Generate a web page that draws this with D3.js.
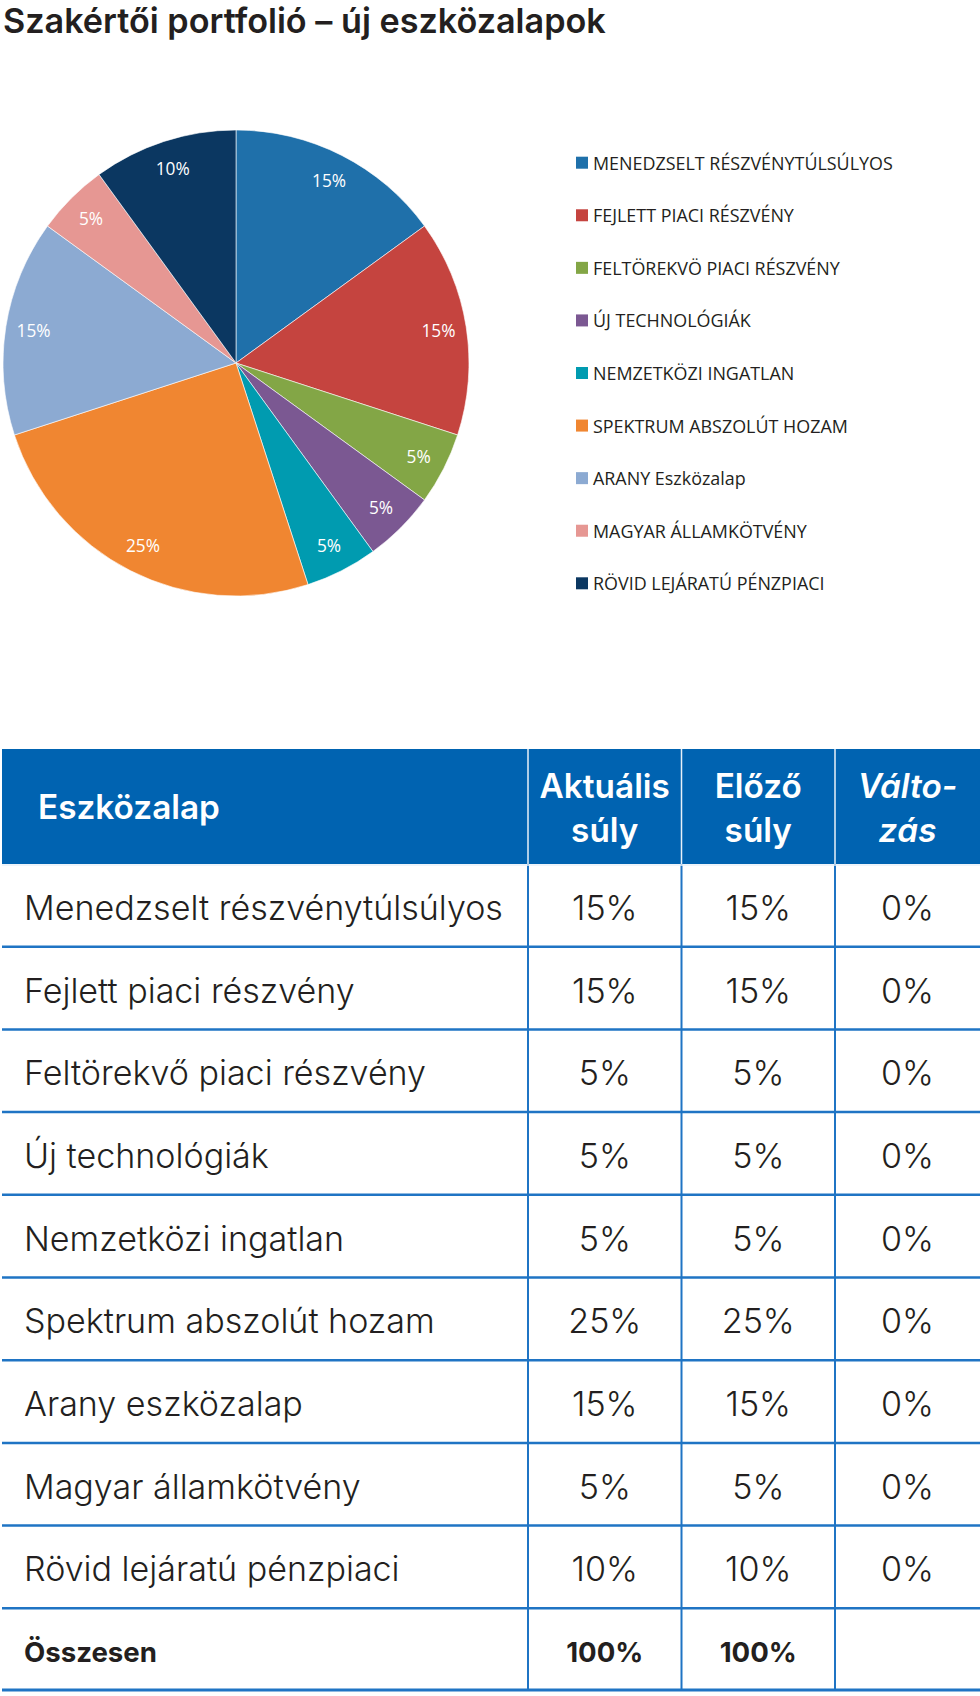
<!DOCTYPE html>
<html><head><meta charset="utf-8">
<script src="https://cdn.jsdelivr.net/npm/d3@7"></script>
<style>body{margin:0;background:#fff}svg{display:block}</style>
</head><body>
<svg id="c" width="980" height="1696"></svg>
<script>
const title = "Szakértői portfolió – új eszközalapok";
const legendLabels = ["MENEDZSELT RÉSZVÉNYTÚLSÚLYOS","FEJLETT PIACI RÉSZVÉNY","FELTÖREKVÖ PIACI RÉSZVÉNY","ÚJ TECHNOLÓGIÁK","NEMZETKÖZI INGATLAN","SPEKTRUM ABSZOLÚT HOZAM","ARANY Eszközalap","MAGYAR ÁLLAMKÖTVÉNY","RÖVID LEJÁRATÚ PÉNZPIACI"];
const rowLabels = ["Menedzselt részvénytúlsúlyos","Fejlett piaci részvény","Feltörekvő piaci részvény","Új technológiák","Nemzetközi ingatlan","Spektrum abszolút hozam","Arany eszközalap","Magyar államkötvény","Rövid lejáratú pénzpiaci"];
const currentWeight = [15,15,5,5,5,25,15,5,10];
const previousWeight = [15,15,5,5,5,25,15,5,10];
const change = [0,0,0,0,0,0,0,0,0];
const colors = ["#1f70aa","#c5443f","#83a646","#7b5892","#009bb0","#f08631","#8caad2","#e69793","#0b3761"];
const headers = [["Eszközalap"],["Aktuális","súly"],["Előző","súly"],["Válto-","zás"]];
const totalLabel = "Összesen";

const svg = d3.select("#c");

function fit(family, weight, style, str, target){
  const t = svg.append("text").attr("font-family",family).attr("font-weight",weight)
    .attr("font-style",style).attr("font-size",100).text(str);
  const w = t.node().getComputedTextLength(); t.remove();
  return 100*target/w;
}

const TF = "Inter, 'Open Sans', sans-serif";
const LF = "'Open Sans', 'Noto Sans', sans-serif";

// Title
svg.append("text").attr("x",3).attr("y",33)
  .attr("font-family",TF).attr("font-weight",600)
  .attr("font-size",fit(TF,600,"normal",title,603)).attr("fill","#231f20").text(title);

// Pie
const cx=236, cy=363, R=233;
const pie = d3.pie().sort(null).value(d=>d);
const arcs = pie(currentWeight);
const arc = d3.arc().innerRadius(0).outerRadius(R);
const labelArc = d3.arc().innerRadius(205).outerRadius(205);
const g = svg.append("g").attr("transform",`translate(${cx},${cy})`);
g.selectAll("path").data(arcs).join("path").attr("d",arc)
  .attr("fill",(d,i)=>colors[i]).attr("stroke","#fff").attr("stroke-width",0.6);
const pfs = fit(LF,400,"normal","15%",34);
g.selectAll("text").data(arcs).join("text")
  .attr("transform",d=>`translate(${labelArc.centroid(d)})`)
  .attr("text-anchor","middle").attr("dominant-baseline","central")
  .attr("font-family",LF).attr("font-size",pfs).attr("fill","#fff")
  .text(d=>d.data+"%");

// Legend
const lfs = fit(LF,400,"normal",legendLabels[0],300);
const ly = d3.scalePoint().domain(d3.range(legendLabels.length)).range([162.7,583.3]);
const lg = svg.append("g");
const li = lg.selectAll("g").data(legendLabels).join("g").attr("transform",(d,i)=>`translate(576,${ly(i)})`);
li.append("rect").attr("x",0).attr("y",-6).attr("width",12).attr("height",12).attr("fill",(d,i)=>colors[i]);
li.append("text").attr("x",17).attr("y",0).attr("dominant-baseline","central")
  .attr("font-family",LF).attr("font-size",lfs).attr("fill","#231f20").text(d=>d);

// Table
const BLUE="#0063b1", LINE="#1f74c4";
const colX=[2,528,681.5,835,980];
const hTop=749, hBot=864, tBot=1691;
const nRows = rowLabels.length+1;
const y = d3.scaleBand().domain(d3.range(nRows)).range([hBot,tBot]);
svg.append("rect").attr("x",colX[0]).attr("y",hTop).attr("width",colX[4]-colX[0]).attr("height",hBot-hTop).attr("fill",BLUE);
// header dividers
[1,2,3].forEach(i=>svg.append("line").attr("x1",colX[i]).attr("x2",colX[i]).attr("y1",hTop).attr("y2",hBot)
  .attr("stroke","#e8f0f8").attr("stroke-width",1.5));
// body verticals
[1,2,3].forEach(i=>svg.append("line").attr("x1",colX[i]).attr("x2",colX[i]).attr("y1",hBot).attr("y2",tBot)
  .attr("stroke",LINE).attr("stroke-width",2));
// horizontals
d3.range(1,nRows+1).forEach(i=>{
  const yy = i===nRows ? tBot-1 : y(i);
  svg.append("line").attr("x1",colX[0]).attr("x2",colX[4]).attr("y1",yy).attr("y2",yy)
   .attr("stroke",LINE).attr("stroke-width",i===nRows?3:2.5);
});
svg.append("line").attr("x1",colX[0]).attr("x2",colX[4]).attr("y1",hBot+1).attr("y2",hBot+1).attr("stroke","#e8f0f8").attr("stroke-width",1.5);

const hfs = fit(TF,600,"normal","Eszközalap",182);
const hc = (hTop+hBot)/2;
headers.forEach((lines,ci)=>{
  const x = ci===0 ? 38 : (colX[ci]+colX[ci+1])/2;
  lines.forEach((s,li2)=>{
    const yy = lines.length===1 ? hc : hc + (li2===0?-21:23);
    svg.append("text").attr("x",x).attr("y",yy).attr("dominant-baseline","central")
      .attr("text-anchor",ci===0?"start":"middle")
      .attr("font-family",TF).attr("font-weight",600).attr("font-style",ci===3?"italic":"normal")
      .attr("font-size",hfs).attr("fill","#fff").text(s);
  });
});

const bfs = fit(TF,300,"normal",rowLabels[0],479);
rowLabels.forEach((lab,i)=>{
  const yy = y(i)+y.bandwidth()/2+2;
  const vals=[lab, currentWeight[i]+"%", previousWeight[i]+"%", change[i]+"%"];
  vals.forEach((v,ci)=>{
    svg.append("text").attr("x",ci===0?24:(colX[ci]+colX[ci+1])/2).attr("y",yy)
      .attr("dominant-baseline","central").attr("text-anchor",ci===0?"start":"middle")
      .attr("font-family",TF).attr("font-weight",300).attr("font-size",bfs).attr("fill","#231f20").text(v);
  });
});
const tfs = fit(TF,700,"normal",totalLabel,133);
const ti = rowLabels.length;
const tvals=[totalLabel, d3.sum(currentWeight)+"%", d3.sum(previousWeight)+"%", ""];
tvals.forEach((v,ci)=>{
  svg.append("text").attr("x",ci===0?24:(colX[ci]+colX[ci+1])/2).attr("y",y(ti)+y.bandwidth()/2+2)
    .attr("dominant-baseline","central").attr("text-anchor",ci===0?"start":"middle")
    .attr("font-family",TF).attr("font-weight",700).attr("font-size",tfs).attr("fill","#231f20").text(v);
});
</script>
</body></html>
